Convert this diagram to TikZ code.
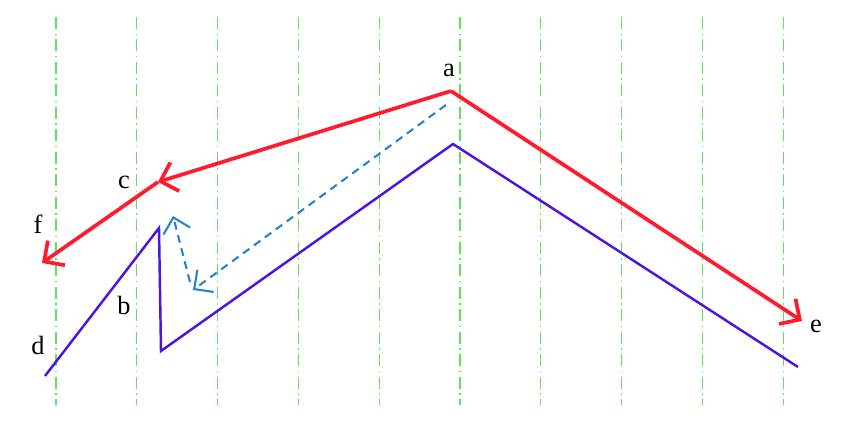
\documentclass[tikz,border=0pt]{standalone}
\usepackage{fontspec}
\setmainfont{Liberation Serif}
\usepackage{xcolor}
\definecolor{cRed}{HTML}{FF1A2E}
\definecolor{cPath}{HTML}{4C14E0}
\definecolor{cMove}{HTML}{2A82D2}
\definecolor{cGrid}{HTML}{5FE35F}
\usepackage{tikz}
\usetikzlibrary{arrows.meta}
\tikzset{
  grid-line/.style={draw=cGrid,line width=0.6pt,
    dash pattern=on 6.8pt off 2.6pt on 0.8pt off 2.6pt},
  path-red/.style={draw=cRed,line width=2.1pt},
  path-blue/.style={draw=cPath,line width=1.4pt},
  arrow-red/.style={path-red,-{Straight Barb[length=3mm,width=6mm]}},
  arrow-move/.style={draw=cMove,line width=1.2pt,dash pattern=on 4.5pt off 3.2pt,
    -{Straight Barb[length=2.8mm,width=5.5mm]}},
  pt-label/.style={font=\fontsize{15}{17}\selectfont,inner sep=1pt},
}

\begin{document}
\begin{tikzpicture}[x=0.02cm,y=-0.02cm]
  \useasboundingbox (0,0) rectangle (850,425);
  % vertical reference lines
  \foreach \i in {0,...,9}
    \draw[grid-line] ({56+80.8*\i},17) -- ({56+80.8*\i},405);
  % red path points
  \coordinate (a) at (451,91);
  \coordinate (c) at (158,182);
  \coordinate (f) at (42,263);
  \coordinate (e) at (802,321);
  % blue path points
  \coordinate (d)  at (45,376);
  \coordinate (b1) at (159,228);
  \coordinate (b2) at (161,351);
  \coordinate (pk) at (453,144);
  \coordinate (en) at (798,367);
  % dashed moves
  \coordinate (m0) at (446,105);
  \coordinate (m1) at (193,290);
  \coordinate (m2) at (190,282);
  \coordinate (m3) at (173,216);
  \node[pt-label] (la) at (449,70)  {a};
  \node[pt-label] (lc) at (124,182) {c};
  \node[pt-label] (lf) at (38,224)  {f};
  \node[pt-label] (lb) at (124,305) {b};
  \node[pt-label] (ld) at (38,345)  {d};
  \node[pt-label] (le) at (816,326) {e};
  \draw[path-blue] (d) -- (b1) -- (b2) -- (pk) -- (en);
  \draw[arrow-move] (m0) -- (m1);
  \draw[arrow-move] (m2) -- (m3);
  \draw[arrow-red] (a) -- (c);
  \draw[arrow-red] (c) -- (f);
  \draw[arrow-red] (a) -- (e);
\end{tikzpicture}
\end{document}
